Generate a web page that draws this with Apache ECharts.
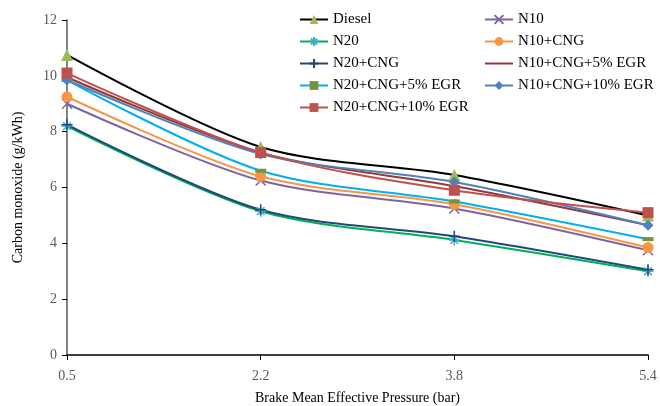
<!DOCTYPE html>
<html>
<head>
<meta charset="utf-8">
<script src="https://cdn.jsdelivr.net/npm/echarts@6/dist/echarts.min.js"></script>
<style>
  html, body { margin: 0; padding: 0; background: #fff; }
  #chart { width: 660px; height: 406px; }
</style>
</head>
<body>
<div id="chart"></div>
<script>
// Brake mean effective pressure (bar)
const bmep = ['0.5', '2.2', '3.8', '5.4'];

// Carbon monoxide emissions (g/kWh) per fuel blend
const diesel        = [10.75, 7.45, 6.45, 5.00];
const n10           = [9.00, 6.25, 5.25, 3.75];
const n20           = [8.20, 5.15, 4.12, 3.00];
const n10Cng        = [9.25, 6.40, 5.40, 3.85];
const n20Cng        = [8.25, 5.20, 4.25, 3.05];
const n10Cng5Egr    = [9.95, 7.25, 6.05, 4.65];
const n20Cng5Egr    = [9.85, 6.60, 5.50, 4.15];
const n10Cng10Egr   = [9.85, 7.20, 6.20, 4.65];
const n20Cng10Egr   = [10.10, 7.25, 5.90, 5.10];

const yTicks = [0, 2, 4, 6, 8, 10, 12];

const serif = '"Liberation Serif", "DejaVu Serif", serif';

// stroked marker shapes
const xMark = 'path://M0 0L10 10M10 0L0 10';
const starMark = 'path://M0 5L10 5M5 0L5 10M1.5 1.5L8.5 8.5M8.5 1.5L1.5 8.5';
const plusMark = 'path://M0 5L10 5M5 0L5 10';

function line(name, data, color, symbol, size, markColor, stroked) {
  const s = {
    name: name,
    type: 'line',
    data: data,
    smooth: 0.3,
    lineStyle: { color: color, width: 2 },
    symbol: symbol,
    symbolSize: size,
    itemStyle: stroked
      ? { color: markColor, borderColor: markColor, borderWidth: 1.5 }
      : { color: markColor, borderWidth: 0 },
    emphasis: { disabled: true }
  };
  if (symbol === 'none') s.itemStyle = { color: color };
  return s;
}

const series = [
  line('Diesel', diesel, '#000000', 'triangle', 12, '#9BBB59'),
  line('N10', n10, '#8064A2', xMark, 10, '#8064A2', true),
  line('N20', n20, '#00B050', starMark, 11, '#4BACC6', true),
  line('N10+CNG', n10Cng, '#F79646', 'circle', 11, '#F79646'),
  line('N20+CNG', n20Cng, '#1F497D', plusMark, 11, '#1F497D', true),
  line('N10+CNG+5% EGR', n10Cng5Egr, '#953735', 'none', 0, '#953735'),
  line('N20+CNG+5% EGR', n20Cng5Egr, '#00B0F0', 'rect', [11, 4], '#77933C'),
  line('N10+CNG+10% EGR', n10Cng10Egr, '#4F81BD', 'diamond', 11, '#4F81BD'),
  line('N20+CNG+10% EGR', n20Cng10Egr, '#C0504D', 'rect', 11, '#C0504D')
];

const legendBase = {
  orient: 'vertical',
  padding: 0,
  itemWidth: 28,
  itemHeight: 11,
  itemGap: 7,
  selectedMode: false,
  textStyle: { fontFamily: serif, fontSize: 15, color: '#000' }
};

const chart = echarts.init(document.getElementById('chart'));
chart.setOption({
  animation: false,
  backgroundColor: '#fff',
  grid: { left: 67, right: 12, top: 20, bottom: 51, containLabel: false, outerBoundsMode: 'none' },
  legend: [
    Object.assign({}, legendBase, {
      left: 299, top: 12,
      data: ['Diesel', 'N20', 'N20+CNG', 'N20+CNG+5% EGR', 'N20+CNG+10% EGR']
    }),
    Object.assign({}, legendBase, {
      left: 484, top: 12,
      data: ['N10', 'N10+CNG',
        { name: 'N10+CNG+5% EGR', itemStyle: { opacity: 0 } },
        'N10+CNG+10% EGR']
    })
  ],
  xAxis: {
    type: 'category',
    data: bmep,
    boundaryGap: false,
    name: 'Brake Mean Effective Pressure (bar)',
    nameLocation: 'middle',
    nameGap: 36,
    nameTextStyle: { fontFamily: serif, fontSize: 14, color: '#000' },
    axisLine: { lineStyle: { color: '#000', width: 1.5 } },
    axisTick: { alignWithLabel: true, length: 5, lineStyle: { color: '#000' } },
    axisLabel: { fontFamily: serif, fontSize: 14, color: '#595959', margin: 14 },
    splitLine: { show: false }
  },
  yAxis: {
    type: 'value',
    min: yTicks[0],
    max: yTicks[yTicks.length - 1],
    interval: 2,
    name: 'Carbon monoxide (g/kWh)',
    nameLocation: 'middle',
    nameGap: 42,
    nameRotate: 90,
    nameTextStyle: { fontFamily: serif, fontSize: 14, color: '#000' },
    axisLine: { show: true, lineStyle: { color: '#595959', width: 1.5 } },
    axisTick: { show: true, length: 5, lineStyle: { color: '#000' } },
    axisLabel: { fontFamily: serif, fontSize: 14, color: '#595959', margin: 10 },
    splitLine: { show: false }
  },
  series: series
});
</script>
</body>
</html>
